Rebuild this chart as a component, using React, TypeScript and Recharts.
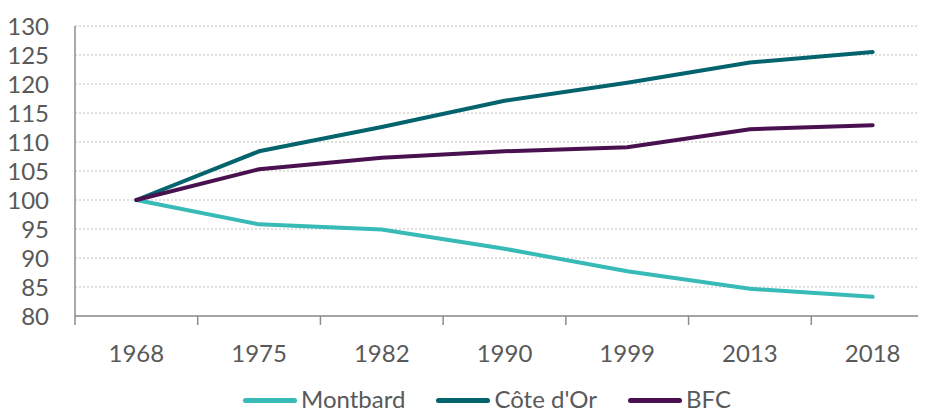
import { LineChart, Line, XAxis, YAxis, CartesianGrid, Legend } from "recharts";

// indices base 100 en 1968
const YEARS = ["1968", "1975", "1982", "1990", "1999", "2013", "2018"];
const MONTBARD = [100, 95.8, 94.9, 91.6, 87.7, 84.7, 83.3];
const COTE_DOR = [100, 108.4, 112.6, 117.1, 120.2, 123.7, 125.5];
const BFC = [100, 105.3, 107.3, 108.4, 109.1, 112.2, 112.9];
const Y_TICKS = [80, 85, 90, 95, 100, 105, 110, 115, 120, 125, 130];

const SERIES = [
  { key: "montbard", name: "Montbard", color: "#38BAB6" },
  { key: "cotedor", name: "Côte d'Or", color: "#04646E" },
  { key: "bfc", name: "BFC", color: "#4A1150" },
];

const data = YEARS.map((y, i) => ({
  year: y,
  montbard: MONTBARD[i],
  cotedor: COTE_DOR[i],
  bfc: BFC[i],
}));

const W = 930;
const H = 405;
const MARGIN = { top: 18, right: 4, left: 0, bottom: 5 };
const Y_W = 67;
const STEP = (W - MARGIN.left - MARGIN.right - Y_W) / YEARS.length;
const TXT = "#595959";
const AXIS = "#8c8c8c";
const FONT = "Lato, 'Open Sans', sans-serif";
const FS = 24;

const XTick = (props: any) => {
  const { x, y, payload } = props;
  return (
    <g>
      <line x1={x - STEP / 2} x2={x - STEP / 2} y1={y} y2={y + 9} stroke={AXIS} strokeWidth={1.5} />
      <text x={x} y={y + 36} textAnchor="middle" dominantBaseline="central" fill={TXT} fontSize={FS} fontFamily={FONT}>
        {payload.value}
      </text>
    </g>
  );
};

const LegendContent = () => (
  <div style={{ display: "flex", alignItems: "center", height: 18, paddingLeft: 235, fontFamily: FONT, fontSize: FS, color: TXT }}>
    {SERIES.map((s) => (
      <div key={s.key} style={{ display: "flex", alignItems: "center", height: 18, marginRight: 31 }}>
        <span style={{ display: "block", width: 54, height: 5, borderRadius: 3, background: s.color, marginRight: 4, marginTop: 2 }} />
        <span style={{ display: "block", height: 18, lineHeight: "18px" }}>{s.name}</span>
      </div>
    ))}
  </div>
);

export default function App() {
  return (
    <div style={{ width: 918, overflow: "hidden" }}>
      <LineChart width={W} height={H} data={data} margin={MARGIN}>
        <CartesianGrid vertical={false} stroke="#bfbfbf" strokeDasharray="2 2" />
        <XAxis
          dataKey="year"
          scale="band"
          height={74}
          axisLine={{ stroke: AXIS, strokeWidth: 1.5 }}
          tickLine={false}
          tickSize={0}
          tickMargin={0}
          interval={0}
          tick={<XTick />}
        />
        <YAxis
          width={Y_W}
          domain={[80, 130]}
          ticks={Y_TICKS}
          interval={0}
          axisLine={{ stroke: AXIS, strokeWidth: 1.5 }}
          tickLine={false}
          tickSize={0}
          tickMargin={26}
          tick={{ fill: TXT, fontSize: FS, fontFamily: FONT }}
        />
        <Legend verticalAlign="bottom" height={18} content={<LegendContent />} />
        {SERIES.map((s) => (
          <Line
            key={s.key}
            type="linear"
            dataKey={s.key}
            name={s.name}
            stroke={s.color}
            strokeWidth={4}
            strokeLinecap="round"
            dot={false}
            isAnimationActive={false}
          />
        ))}
      </LineChart>
    </div>
  );
}
